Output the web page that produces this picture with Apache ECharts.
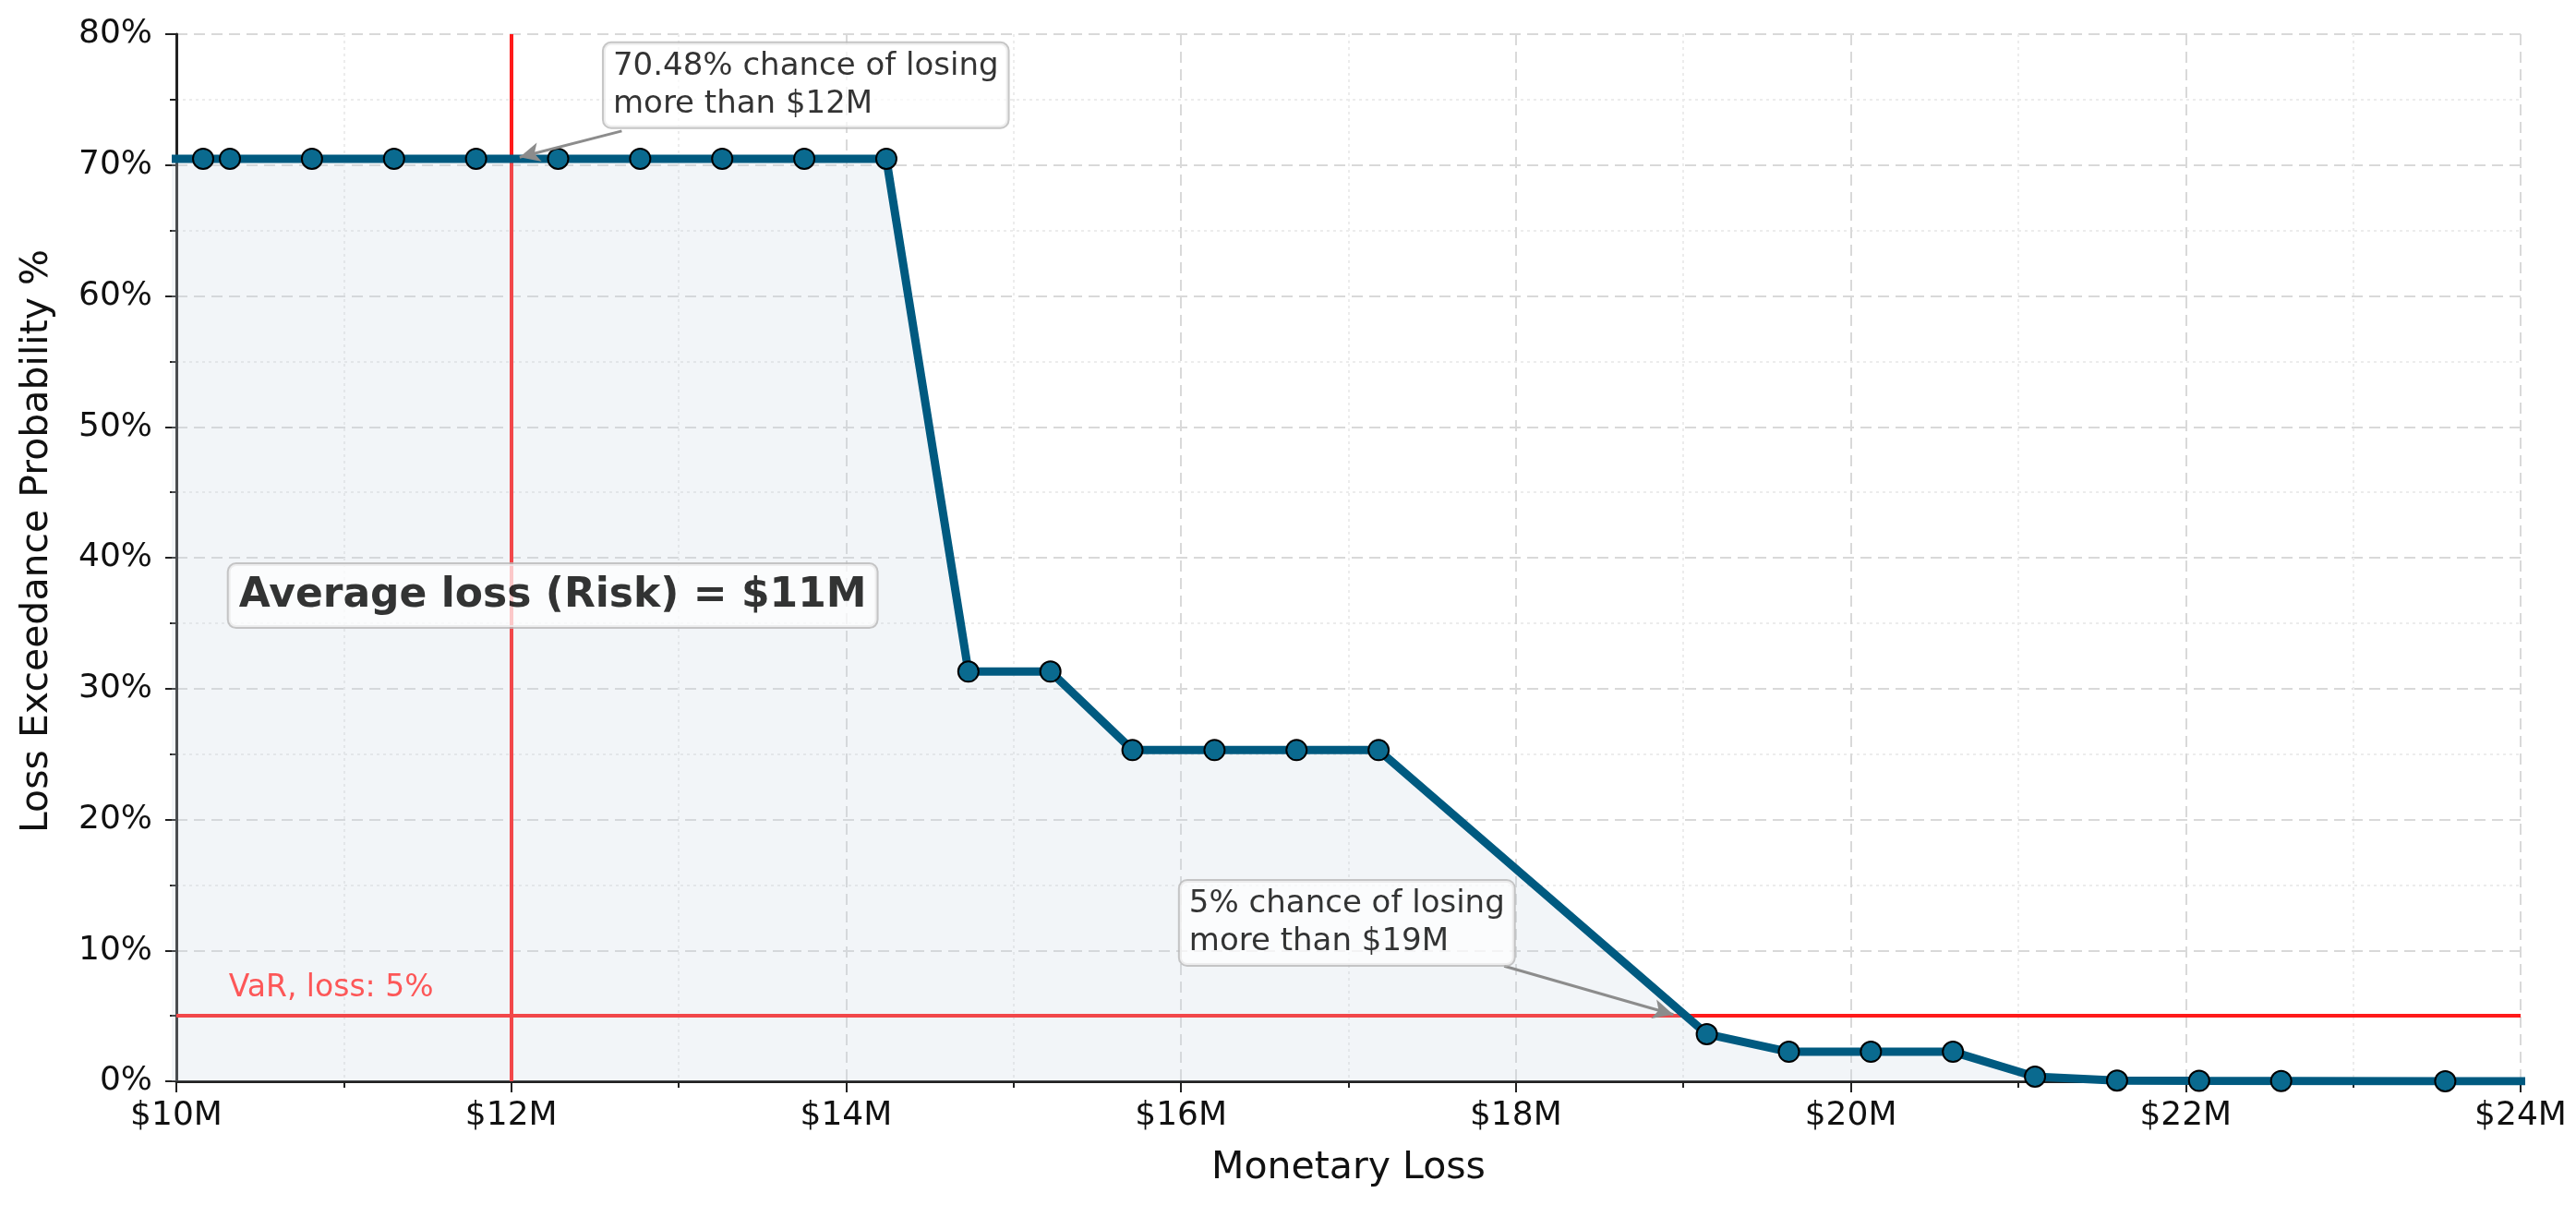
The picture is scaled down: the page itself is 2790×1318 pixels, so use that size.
<!DOCTYPE html>
<html>
<head>
<meta charset="utf-8">
<script src="https://cdn.jsdelivr.net/npm/echarts@6/dist/echarts.min.js"></script>
<style>
  html, body { margin: 0; padding: 0; background: #fff; }
  #chart { width: 2790px; height: 1318px; }
</style>
</head>
<body>
<div id="chart"></div>
<script>
// ---- data ----
const lossM = [9.67, 10.16, 10.32, 10.81, 11.30, 11.79, 12.28, 12.77, 13.26, 13.75, 14.24,
               14.73, 15.22, 15.71, 16.20, 16.69, 17.18, 19.14, 19.63, 20.12, 20.61,
               21.10, 21.59, 22.08, 22.57, 23.55, 24.50];
const exceedPct = [70.48, 70.48, 70.48, 70.48, 70.48, 70.48, 70.48, 70.48, 70.48, 70.48, 70.48,
                   31.3, 31.3, 25.3, 25.3, 25.3, 25.3, 3.6, 2.25, 2.25, 2.25,
                   0.35, 0.05, 0.03, 0.02, 0.0, 0.0];
const xTickValues = [10, 12, 14, 16, 18, 20, 22, 24];
const yTickValues = [0, 10, 20, 30, 40, 50, 60, 70, 80];
const thresholdLossM = 12;
const varPct = 5;
// "at" = left-middle anchor of each annotation box
const annotations = [
  { text: '70.48% chance of losing\nmore than $12M', at: [12.55, 76.1], from: [12.66, 72.6], to: [12.05, 70.6] },
  { text: '5% chance of losing\nmore than $19M', at: [15.99, 12.1], from: [17.93, 8.8], to: [18.94, 5.1] }
];
const riskText = 'Average loss (Risk) = $11M';
const riskAt = [10.31, 37.1];
const varText = 'VaR, loss: 5%';
const varTextAt = [10.31, 7.1];

const FONT = 'DejaVu Sans';
const lineData = lossM.map((x, i) => [x, exceedPct[i]]);

const chart = echarts.init(document.getElementById('chart'), null, { renderer: 'canvas' });

const boxLabel = (extra) => Object.assign({
  show: true,
  position: 'right',
  distance: 0,
  fontFamily: FONT,
  fontSize: 34,
  lineHeight: 41,
  color: '#000000',
  textBorderWidth: 0,
  align: 'left',
  backgroundColor: 'rgba(255,255,255,0.88)',
  borderColor: '#b8b8b8',
  borderWidth: 2,
  borderRadius: 8,
  padding: [5, 10, 4, 10]
}, extra);

const option = {
  animation: false,
  backgroundColor: '#fff',
  grid: { left: 191, right: 60, top: 37, bottom: 147, containLabel: false },
  xAxis: {
    type: 'value',
    min: xTickValues[0],
    max: xTickValues[xTickValues.length - 1],
    interval: 2,
    name: 'Monetary Loss',
    nameLocation: 'middle',
    nameGap: 74,
    nameTextStyle: { fontFamily: FONT, fontSize: 41, color: '#111' },
    axisLine: { show: true, onZero: false, lineStyle: { color: '#222', width: 3 } },
    axisTick: { show: true, length: 12, lineStyle: { color: '#222', width: 2 } },
    minorTick: { show: true, splitNumber: 2, length: 7, lineStyle: { color: '#222', width: 2 } },
    axisLabel: { fontFamily: FONT, fontSize: 36, color: '#111', margin: 20,
                 formatter: v => '$' + v + 'M' },
    splitLine: { show: true, lineStyle: { color: '#d9d9d9', width: 2, type: [12, 7] } },
    minorSplitLine: { show: true, lineStyle: { color: '#ececec', width: 2, type: [3, 4] } }
  },
  yAxis: {
    type: 'value',
    min: yTickValues[0],
    max: yTickValues[yTickValues.length - 1],
    interval: 10,
    name: 'Loss Exceedance Probability %',
    nameLocation: 'middle',
    nameGap: 130,
    nameTextStyle: { fontFamily: FONT, fontSize: 41, color: '#111', padding: [0, 0, 0, 36] },
    axisLine: { show: true, lineStyle: { color: '#222', width: 3 } },
    axisTick: { show: true, length: 12, lineStyle: { color: '#222', width: 2 } },
    minorTick: { show: true, splitNumber: 2, length: 7, lineStyle: { color: '#222', width: 2 } },
    axisLabel: { fontFamily: FONT, fontSize: 36, color: '#111', margin: 26,
                 formatter: v => v + '%' },
    splitLine: { show: true, lineStyle: { color: '#d9d9d9', width: 2, type: [12, 7] } },
    minorSplitLine: { show: true, lineStyle: { color: '#ececec', width: 2, type: [3, 4] } }
  },
  series: [
    {
      type: 'line',
      data: lineData,
      clip: true,
      z: 3,
      symbol: 'circle',
      symbolSize: 22,
      showAllSymbol: true,
      lineStyle: { color: '#005a80', width: 9 },
      itemStyle: { color: '#0a6a8f', borderColor: '#000', borderWidth: 2 },
      areaStyle: { color: 'rgba(200,215,225,0.35)', origin: 'start' },
      markLine: {
        silent: true,
        symbol: ['none', 'none'],
        label: { show: false },
        lineStyle: { color: '#ff1a1a', width: 4, type: 'solid' },
        data: [ { xAxis: thresholdLossM }, { yAxis: varPct } ],
        z: 2
      }
    },
    {
      type: 'scatter',
      data: [],
      z: 6,
      markLine: {
        silent: true,
        symbol: ['none', 'arrow'],
        symbolSize: [16, 22],
        label: { show: false },
        lineStyle: { color: '#8c8c8c', width: 3, type: 'solid' },
        data: annotations.map(a => [ { coord: a.from }, { coord: a.to } ])
      }
    },
    {
      type: 'scatter',
      clip: false,
      z: 10,
      symbolSize: 1,
      itemStyle: { color: 'transparent' },
      data: annotations.map(a => ({ value: a.at, label: boxLabel({ formatter: a.text }) })).concat([
        { value: riskAt, label: boxLabel({ formatter: riskText, fontSize: 44, fontWeight: 'bold',
                                           lineHeight: 50, padding: [10, 11, 8, 11] }) },
        { value: varTextAt, label: { show: true, position: 'right', distance: 0, formatter: varText,
                                     fontFamily: FONT, fontSize: 33, color: '#ff3030' } }
      ])
    }
  ]
};
chart.setOption(option);
</script>
</body>
</html>
